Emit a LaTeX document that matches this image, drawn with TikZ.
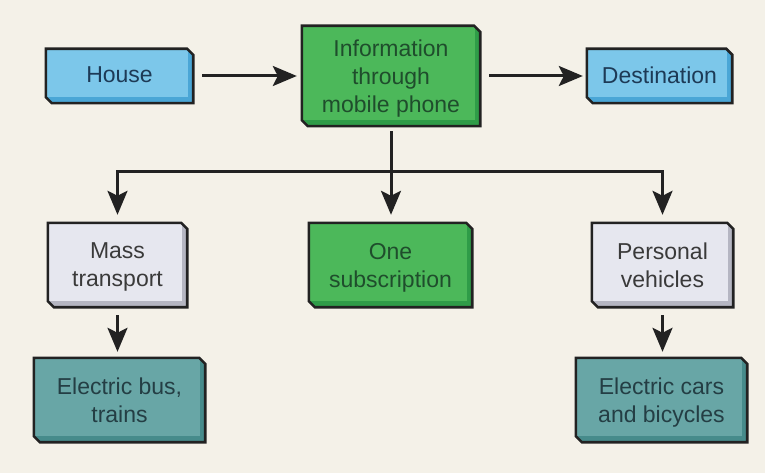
\documentclass[tikz,border=0pt]{standalone}
\usepackage{fontspec}
\setmainfont{Liberation Sans}
\usetikzlibrary{arrows.meta,calc,backgrounds}
\definecolor{bg}{HTML}{F4F1E8}
\definecolor{blueF}{HTML}{7CC7EA}\definecolor{blueS}{HTML}{4AA6D6}\definecolor{blueT}{HTML}{1D3A56}
\definecolor{greenF}{HTML}{4CB85A}\definecolor{greenS}{HTML}{2F9C48}\definecolor{greenT}{HTML}{1F4D2C}
\definecolor{grayF}{HTML}{E6E7EF}\definecolor{grayS}{HTML}{B5B6C2}\definecolor{grayT}{HTML}{3A3A3A}
\definecolor{tealF}{HTML}{68A6A6}\definecolor{tealS}{HTML}{468B8B}\definecolor{tealT}{HTML}{243E44}
\definecolor{edge}{HTML}{222222}
\newcommand\bevelbox[3]{%
  \begin{scope}[on background layer]
    \path (#1.north west) coordinate (bnw) (#1.south east) coordinate (bse)
          (#1.north east) coordinate (bne) (#1.south west) coordinate (bsw);
    \fill[#3] (bnw) -- ($(bne)+(-6pt,0pt)$) -- ($(bne)+(0pt,-6pt)$) -- (bse)
       -- ($(bsw)+(6pt,0pt)$) -- ($(bsw)+(0pt,6pt)$) -- cycle;
    \fill[#2] (bnw) rectangle ($(bse)+(-5pt,6pt)$);
    \draw[edge,line width=2.6pt,line join=miter] (bnw) -- ($(bne)+(-6pt,0pt)$) -- ($(bne)+(0pt,-6pt)$) -- (bse)
       -- ($(bsw)+(6pt,0pt)$) -- ($(bsw)+(0pt,6pt)$) -- cycle;
  \end{scope}}
\tikzset{
  boxnode/.style={draw=none,inner sep=0pt,align=center,font=\fontsize{23}{28}\selectfont,
     text depth=0pt},
  arr/.style={line width=3pt,color=edge,-{Stealth[length=24pt,width=20pt,inset=5pt]}},
  plain/.style={line width=3pt,color=edge}
}
\begin{document}
\begin{tikzpicture}[x=1pt,y=-1pt]
\begin{scope}[on background layer]
\fill[bg] (0,0) rectangle (765,473);
\end{scope}
\useasboundingbox (0,0) rectangle (765,473);
\node[boxnode,minimum width=147pt,minimum height=54pt,text=blueT] (house) at (119.5,76) {\raisebox{2pt}{House}};
\node[boxnode,minimum width=178pt,minimum height=100pt,text=greenT] (info) at (391,76) {Information\\through\\mobile phone};
\node[boxnode,minimum width=145pt,minimum height=54pt,text=blueT] (dest) at (659.5,76) {\raisebox{2pt}{Destination}};
\node[boxnode,minimum width=139pt,minimum height=84pt,text=grayT] (mass) at (117.5,265) {Mass\\transport};
\node[boxnode,minimum width=163pt,minimum height=84pt,text=greenT] (one) at (390.5,265) {One\\subscription};
\node[boxnode,minimum width=141pt,minimum height=84pt,text=grayT] (pers) at (662.5,265) {Personal\\vehicles};
\node[boxnode,minimum width=171pt,minimum height=84pt,text=tealT] (bus) at (119.5,400) {Electric bus,\\trains};
\node[boxnode,minimum width=171pt,minimum height=84pt,text=tealT] (cars) at (661.5,400) {Electric cars\\and bicycles};
\bevelbox{house}{blueF}{blueS}
\bevelbox{info}{greenF}{greenS}
\bevelbox{dest}{blueF}{blueS}
\bevelbox{mass}{grayF}{grayS}
\bevelbox{one}{greenF}{greenS}
\bevelbox{pers}{grayF}{grayS}
\bevelbox{bus}{tealF}{tealS}
\bevelbox{cars}{tealF}{tealS}
\coordinate (j) at (391,172);
\draw[arr,shorten <=9pt,shorten >=5pt] (house.east) -- (info.west);
\draw[arr,shorten <=9pt,shorten >=4pt] (info.east) -- (dest.west);
\draw[plain,shorten <=5pt] (info.south) -- (j);
\draw[arr,shorten >=8pt] (j) -| (mass.north);
\draw[arr,shorten >=8pt] (j) -- (j|-one.north);
\draw[arr,shorten >=8pt] (j) -| (pers.north);
\draw[arr,shorten <=8pt,shorten >=6pt] (mass.south) -- (mass.south|-bus.north);
\draw[arr,shorten <=8pt,shorten >=6pt] (pers.south) -- (pers.south|-cars.north);
\end{tikzpicture}
\end{document}
